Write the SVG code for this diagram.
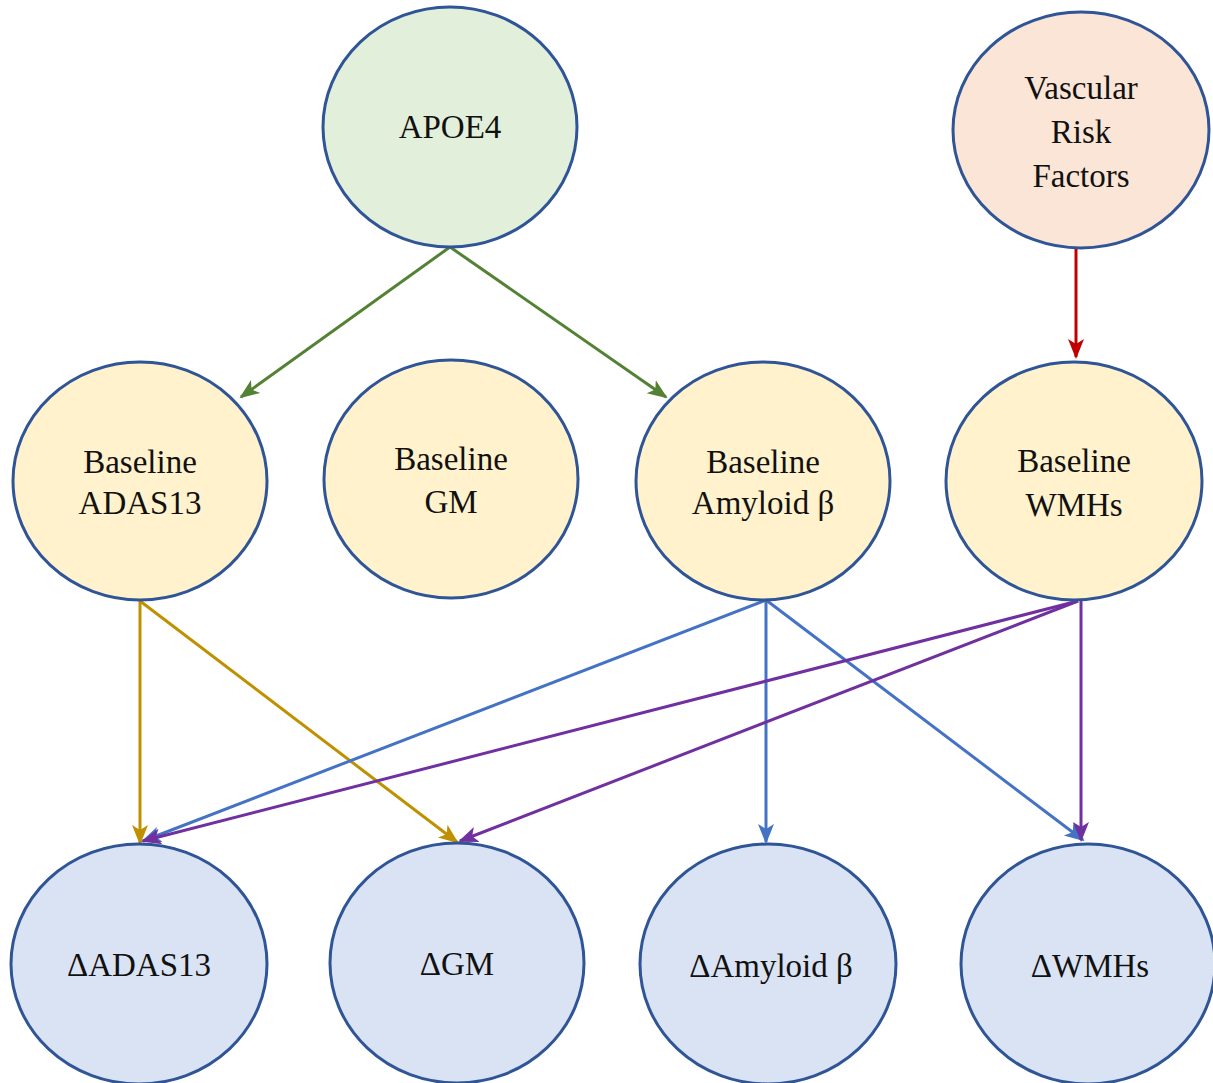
<svg xmlns="http://www.w3.org/2000/svg" width="1213" height="1083" viewBox="0 0 1213 1083">
<style>
.n{stroke:#2F5597;stroke-width:3}
.t{font-family:"Liberation Serif","DejaVu Serif","Times New Roman",serif;font-size:33px;fill:#111;text-anchor:middle}
.e{fill:none;stroke-width:3}
</style>
<defs>
<marker id="ag" markerUnits="userSpaceOnUse" markerWidth="20" markerHeight="20" viewBox="0 0 20 20" refX="18" refY="10" orient="auto"><path d="M0,2 L20,10 L0,18 L5,10 z" fill="#548235"/></marker>
<marker id="ar" markerUnits="userSpaceOnUse" markerWidth="20" markerHeight="20" viewBox="0 0 20 20" refX="18" refY="10" orient="auto"><path d="M0,2 L20,10 L0,18 L5,10 z" fill="#C00000"/></marker>
<marker id="ay" markerUnits="userSpaceOnUse" markerWidth="20" markerHeight="20" viewBox="0 0 20 20" refX="18" refY="10" orient="auto"><path d="M0,2 L20,10 L0,18 L5,10 z" fill="#BF9000"/></marker>
<marker id="ab" markerUnits="userSpaceOnUse" markerWidth="20" markerHeight="20" viewBox="0 0 20 20" refX="18" refY="10" orient="auto"><path d="M0,2 L20,10 L0,18 L5,10 z" fill="#4472C4"/></marker>
<marker id="ap" markerUnits="userSpaceOnUse" markerWidth="20" markerHeight="20" viewBox="0 0 20 20" refX="18" refY="10" orient="auto"><path d="M0,2 L20,10 L0,18 L5,10 z" fill="#7030A0"/></marker>
</defs>
<rect width="1213" height="1083" fill="#fff"/>
<g id="connectors">
<line class="e" x1="450" y1="247" x2="241" y2="397" stroke="#548235" marker-end="url(#ag)"/>
<line class="e" x1="450" y1="247" x2="666" y2="397" stroke="#548235" marker-end="url(#ag)"/>
<line class="e" x1="1076" y1="249" x2="1076" y2="357" stroke="#C00000" marker-end="url(#ar)"/>
<line class="e" x1="140" y1="601" x2="140" y2="843" stroke="#BF9000" marker-end="url(#ay)"/>
<line class="e" x1="140" y1="601" x2="457" y2="842" stroke="#BF9000" marker-end="url(#ay)"/>
<line class="e" x1="766" y1="600" x2="143" y2="841" stroke="#4472C4" marker-end="url(#ab)"/>
<line class="e" x1="766" y1="600" x2="766" y2="842" stroke="#4472C4" marker-end="url(#ab)"/>
<line class="e" x1="766" y1="600" x2="1083" y2="840" stroke="#4472C4" marker-end="url(#ab)"/>
<line class="e" x1="1078" y1="601" x2="143" y2="841" stroke="#7030A0" marker-end="url(#ap)"/>
<line class="e" x1="1078" y1="601" x2="460" y2="841" stroke="#7030A0" marker-end="url(#ap)"/>
<line class="e" x1="1081" y1="601" x2="1081" y2="840" stroke="#7030A0" marker-end="url(#ap)"/>
</g>
<g id="apoe4"><ellipse class="n" cx="450" cy="127" rx="127" ry="120" fill="#E2EFDA"/><text class="t" x="450" y="138">APOE4</text></g>
<g id="vascular"><ellipse class="n" cx="1081" cy="130" rx="128" ry="118" fill="#FBE5D6"/><text class="t" x="1081" y="99">Vascular</text><text class="t" x="1081" y="143">Risk</text><text class="t" x="1081" y="187">Factors</text></g>
<g id="b_adas"><ellipse class="n" cx="140" cy="481" rx="127" ry="119" fill="#FFF2CC"/><text class="t" x="140" y="473">Baseline</text><text class="t" x="140" y="514">ADAS13</text></g>
<g id="b_gm"><ellipse class="n" cx="451" cy="479" rx="127" ry="119" fill="#FFF2CC"/><text class="t" x="451" y="470">Baseline</text><text class="t" x="451" y="513">GM</text></g>
<g id="b_amy"><ellipse class="n" cx="763" cy="481" rx="127" ry="119" fill="#FFF2CC"/><text class="t" x="763" y="473">Baseline</text><text class="t" x="763" y="514">Amyloid β</text></g>
<g id="b_wmh"><ellipse class="n" cx="1074" cy="481" rx="128" ry="119" fill="#FFF2CC"/><text class="t" x="1074" y="472">Baseline</text><text class="t" x="1074" y="516">WMHs</text></g>
<g id="d_adas"><ellipse class="n" cx="139" cy="964" rx="128" ry="120" fill="#DAE3F3"/><text class="t" x="139" y="976">ΔADAS13</text></g>
<g id="d_gm"><ellipse class="n" cx="457" cy="963" rx="127" ry="120" fill="#DAE3F3"/><text class="t" x="457" y="975">ΔGM</text></g>
<g id="d_amy"><ellipse class="n" cx="768" cy="964" rx="128" ry="120" fill="#DAE3F3"/><text class="t" x="771" y="977">ΔAmyloid β</text></g>
<g id="d_wmh"><ellipse class="n" cx="1088" cy="964" rx="127" ry="120" fill="#DAE3F3"/><text class="t" x="1090" y="977">ΔWMHs</text></g>
</svg>
